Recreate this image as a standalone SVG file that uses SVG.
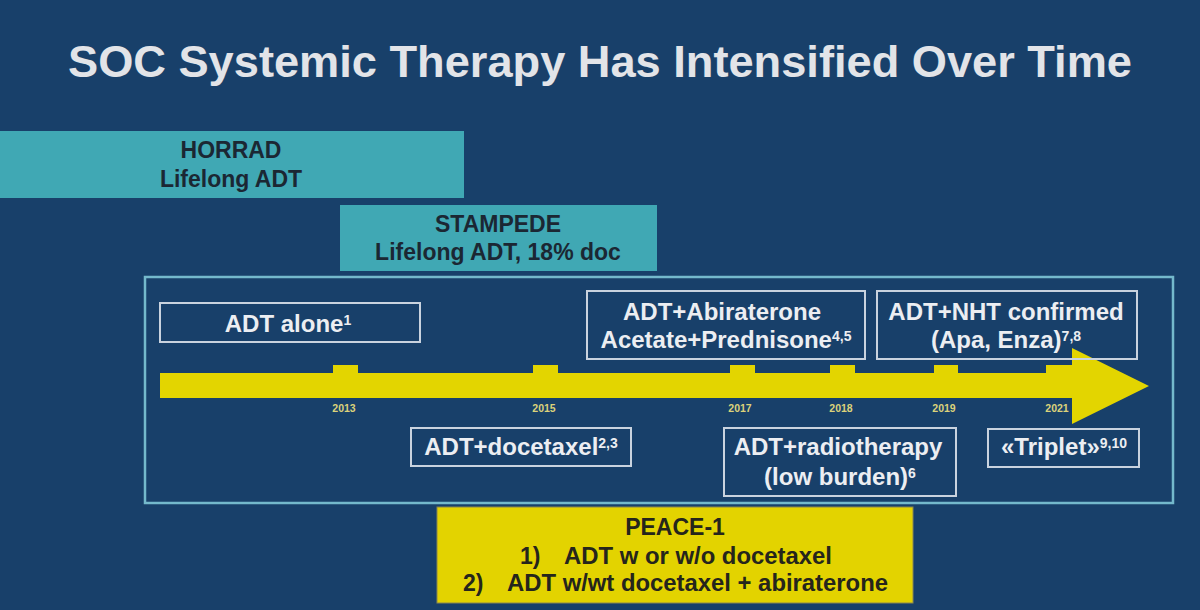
<svg xmlns="http://www.w3.org/2000/svg" width="1200" height="610" viewBox="0 0 1200 610">
<style>
.bg{fill:#18406a}
.title{font-family:"Liberation Sans",Arial,sans-serif;font-weight:bold;font-size:44px;fill:#e2e4e8}
.teal{fill:#40a8b4}
.tt{font-family:"Liberation Sans",Arial,sans-serif;font-weight:bold;font-size:23px;fill:#1b2733;text-anchor:middle}
.frame{fill:none;stroke:#74b9cc;stroke-width:2.5}
.box{fill:none;stroke:#c9d3df;stroke-width:2}
.bt{font-family:"Liberation Sans",Arial,sans-serif;font-weight:bold;font-size:24px;fill:#eceef2;text-anchor:middle}
.sup{font-size:14px}
.arrow{fill:#e3d500}
.yr{font-family:"Liberation Sans",Arial,sans-serif;font-weight:bold;font-size:10.5px;fill:#dcd27a;text-anchor:middle}
.peace{fill:#e3d300;stroke:#8a8750;stroke-width:1}
.pt{font-family:"Liberation Sans",Arial,sans-serif;font-weight:bold;font-size:23px;fill:#25251c}
</style>
<rect class="bg" x="0" y="0" width="1200" height="610"/>
<text class="title" x="600" y="77" text-anchor="middle" textLength="1064" lengthAdjust="spacingAndGlyphs">SOC Systemic Therapy Has Intensified Over Time</text>

<g id="horrad">
<rect class="teal" x="0" y="131" width="464" height="67"/>
<text class="tt" x="231" y="158">HORRAD</text>
<text class="tt" x="231" y="187">Lifelong ADT</text>
</g>

<g id="stampede">
<rect class="teal" x="340" y="205" width="317" height="66"/>
<text class="tt" x="498" y="232">STAMPEDE</text>
<text class="tt" x="498" y="260">Lifelong ADT, 18% doc</text>
</g>

<g id="timeline-frame">
<rect class="frame" x="145" y="277" width="1028" height="226"/>
</g>

<g id="connectors">
<path class="arrow" d="M160,373 H333 V365 H358 V373 H533 V365 H558 V373 H730 V365 H755 V373 H830 V365 H855 V373 H934 V365 H958 V373 H1046 V365 H1072 V348 L1149,386 L1072,424 V398 H160 Z"/>
<text class="yr" x="344" y="412">2013</text>
<text class="yr" x="544" y="412">2015</text>
<text class="yr" x="740" y="412">2017</text>
<text class="yr" x="841" y="412">2018</text>
<text class="yr" x="944" y="412">2019</text>
<text class="yr" x="1057" y="412">2021</text>
</g>

<g id="adt-alone">
<rect class="box" x="160" y="303" width="260" height="39"/>
<text class="bt" x="288" y="332">ADT alone<tspan class="sup" dy="-7">1</tspan></text>
</g>

<g id="adt-docetaxel">
<rect class="box" x="411" y="428" width="220" height="38"/>
<text class="bt" x="521" y="455">ADT+docetaxel<tspan class="sup" dy="-7">2,3</tspan></text>
</g>

<g id="adt-abiraterone">
<rect class="box" x="587" y="291" width="278" height="68"/>
<text class="bt" x="722" y="320">ADT+Abiraterone</text>
<text class="bt" x="726" y="348">Acetate+Prednisone<tspan class="sup" dy="-7">4,5</tspan></text>
</g>

<g id="adt-nht">
<rect class="box" x="877" y="291" width="260" height="68"/>
<text class="bt" x="1006" y="320">ADT+NHT confirmed</text>
<text class="bt" x="1006" y="348">(Apa, Enza)<tspan class="sup" dy="-7">7,8</tspan></text>
</g>

<g id="adt-radiotherapy">
<rect class="box" x="724" y="428" width="232" height="68"/>
<text class="bt" x="838" y="455">ADT+radiotherapy</text>
<text class="bt" x="840" y="485">(low burden)<tspan class="sup" dy="-7">6</tspan></text>
</g>

<g id="triplet">
<rect class="box" x="988" y="429" width="151" height="38"/>
<text class="bt" x="1064" y="455">«Triplet»<tspan class="sup" dy="-7">9,10</tspan></text>
</g>

<g id="peace-1">
<rect class="peace" x="437" y="507" width="476" height="96"/>
<text class="pt" x="675" y="535" text-anchor="middle">PEACE-1</text>
<text class="pt" x="520" y="564">1)</text>
<text class="pt" x="564" y="564" textLength="268" lengthAdjust="spacingAndGlyphs">ADT w or w/o docetaxel</text>
<text class="pt" x="463" y="591">2)</text>
<text class="pt" x="507" y="591" textLength="381" lengthAdjust="spacingAndGlyphs">ADT w/wt docetaxel + abiraterone</text>
</g>
</svg>
